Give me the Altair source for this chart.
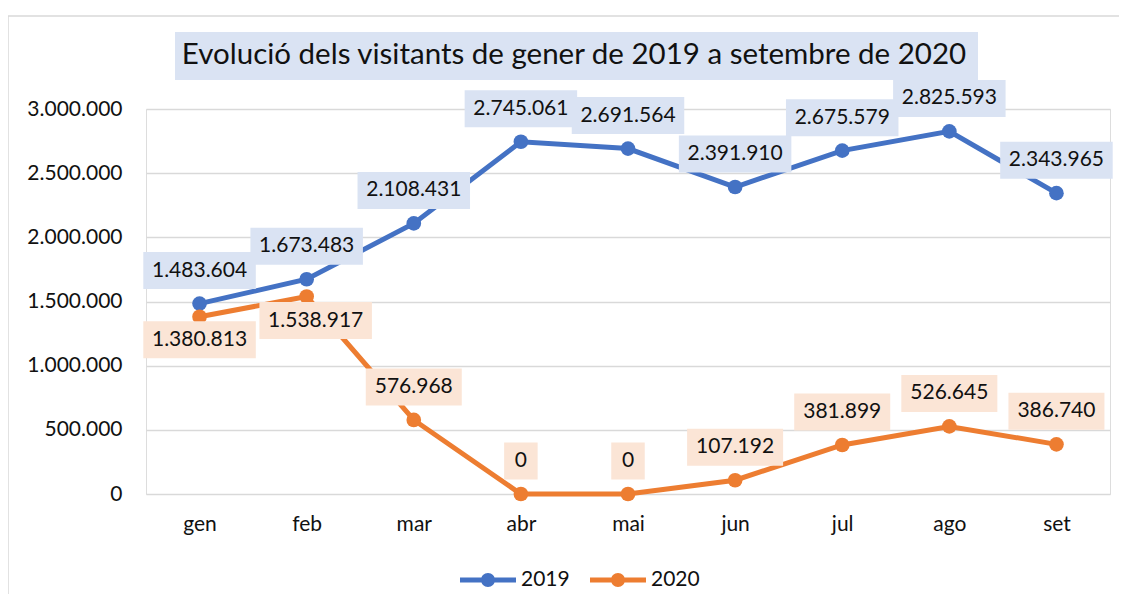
import altair as alt
import pandas as pd

months = ["gen", "feb", "mar", "abr", "mai", "jun", "jul", "ago", "set"]
v2019 = [1483604, 1673483, 2108431, 2745061, 2691564, 2391910, 2675579, 2825593, 2343965]
v2020 = [1380813, 1538917, 576968, 0, 0, 107192, 381899, 526645, 386740]
series = ["2019", "2020"]
colors = ["#4472C4", "#ED7D31"]
box_colors = ["#DAE3F3", "#FBE5D6"]
title_text = "Evolució dels visitants de gener de 2019 a setembre de 2020"
y_ticks = [0, 500000, 1000000, 1500000, 2000000, 2500000, 3000000]

FONT = "Lato"
TXT = "#111111"
FS = 21


def fmt(v):
    return f"{v:,}".replace(",", ".")


# label placement style (pixel offsets from the point)
BELOW = {("2020", "gen"): ("below1", 0, 23), ("2020", "feb"): ("below2", 9, 24)}
ABOVE = ("above", 0, -33)
U = 60.0  # one path unit in px for size = (2*U)^2


def box_path(label, dx, dy):
    digits = sum(c.isdigit() for c in label)
    dots = label.count(".")
    w = 11.5 * digits + 5 * dots + 22
    h = 37
    x0, x1 = (dx - w / 2) / U, (dx + w / 2) / U
    y0, y1 = (dy - h / 2) / U, (dy + h / 2) / U
    return f"M{x0:.4f},{y0:.4f}L{x1:.4f},{y0:.4f}L{x1:.4f},{y1:.4f}L{x0:.4f},{y1:.4f}Z"


rows = []
for s, vals in zip(series, [v2019, v2020]):
    for m, v in zip(months, vals):
        place, dx, dy = BELOW.get((s, m), ABOVE)
        lab = fmt(v)
        rows.append(dict(month=m, series=s, value=v, label=lab, place=place,
                         box=box_path(lab, dx, dy)))
df = pd.DataFrame(rows)

W, H = 964, 385

x_enc = alt.X("month:N", sort=months, title=None,
              axis=alt.Axis(labelFontSize=FS, labelFont=FONT, labelColor=TXT, labelAngle=0,
                            ticks=False, domain=False, grid=False, labelPadding=19))
y_enc = alt.Y("value:Q", title=None, scale=alt.Scale(domain=[0, 3000000], nice=False),
              axis=alt.Axis(values=y_ticks, labelFontSize=FS, labelFont=FONT, labelColor=TXT,
                            ticks=False, domain=False, grid=True, gridColor="#d9d9d9",
                            gridWidth=1.5, labelPadding=24,
                            labelExpr="replace(format(datum.value, ','), /,/g, '.')"))

base = alt.Chart(df)

legend_sym = ("M-1,-0.085L1,-0.085L1,0.085L-1,0.085Z "
              "M-0.25,0A0.25,0.25 0 1,1 0.25,0A0.25,0.25 0 1,1 -0.25,0Z")

legend = alt.Legend(orient="none", legendX=314, legendY=443,
                    direction="horizontal", title=None,
                    symbolType=legend_sym, symbolSize=3136,
                    symbolStrokeWidth=0, symbolOpacity=1,
                    labelFontSize=FS, labelFont=FONT, labelColor=TXT,
                    labelOffset=5, columnPadding=20)
color_enc = alt.Color("series:N", scale=alt.Scale(domain=series, range=colors), legend=legend)

lines = base.mark_line(strokeWidth=5).encode(x=x_enc, y=y_enc, color=color_enc)
points = base.mark_point(filled=True, size=215, opacity=1).encode(x=x_enc, y=y_enc, color=color_enc)
boxes = base.mark_point(filled=True, opacity=1, strokeWidth=0).encode(
    x=x_enc, y=y_enc,
    shape=alt.Shape("box:N", scale=None),
    size=alt.value((2 * U) ** 2),
    fill=alt.Fill("series:N", scale=alt.Scale(domain=series, range=box_colors), legend=None),
)


def text_layer(place, dx, dy):
    return base.transform_filter(alt.datum.place == place).mark_text(
        dx=dx, dy=dy, fontSize=FS, font=FONT, color=TXT, baseline="middle", align="center"
    ).encode(x=x_enc, y=y_enc, text="label:N")


texts = [text_layer(*ABOVE)] + [text_layer(*v) for v in BELOW.values()]

one = pd.DataFrame({"t": [title_text]})
border = alt.Chart(one).mark_rect(filled=False, stroke="#d9d9d9", strokeWidth=1.5).encode(
    x=alt.value(-138), x2=alt.value(974), y=alt.value(-93), y2=alt.value(500))
title_box = alt.Chart(one).mark_rect(fill="#DAE3F3").encode(
    x=alt.value(29), x2=alt.value(832), y=alt.value(-77), y2=alt.value(-29))
title = alt.Chart(one).mark_text(fontSize=29.5, font=FONT, color=TXT, baseline="middle",
                                 align="center").encode(
    x=alt.value(428), y=alt.value(-54), text="t:N")

chart = alt.layer(border, title_box, title, lines, points, boxes, *texts).resolve_scale(
    fill="independent"
).properties(
    width=W, height=H,
    autosize=alt.AutoSizeParams(type="none"),
    padding={"left": 138, "top": 101, "right": 9, "bottom": 100},
).configure_view(stroke=None).configure(background="white")

chart.save("out.html", embed_options={"renderer": "svg", "actions": False})
